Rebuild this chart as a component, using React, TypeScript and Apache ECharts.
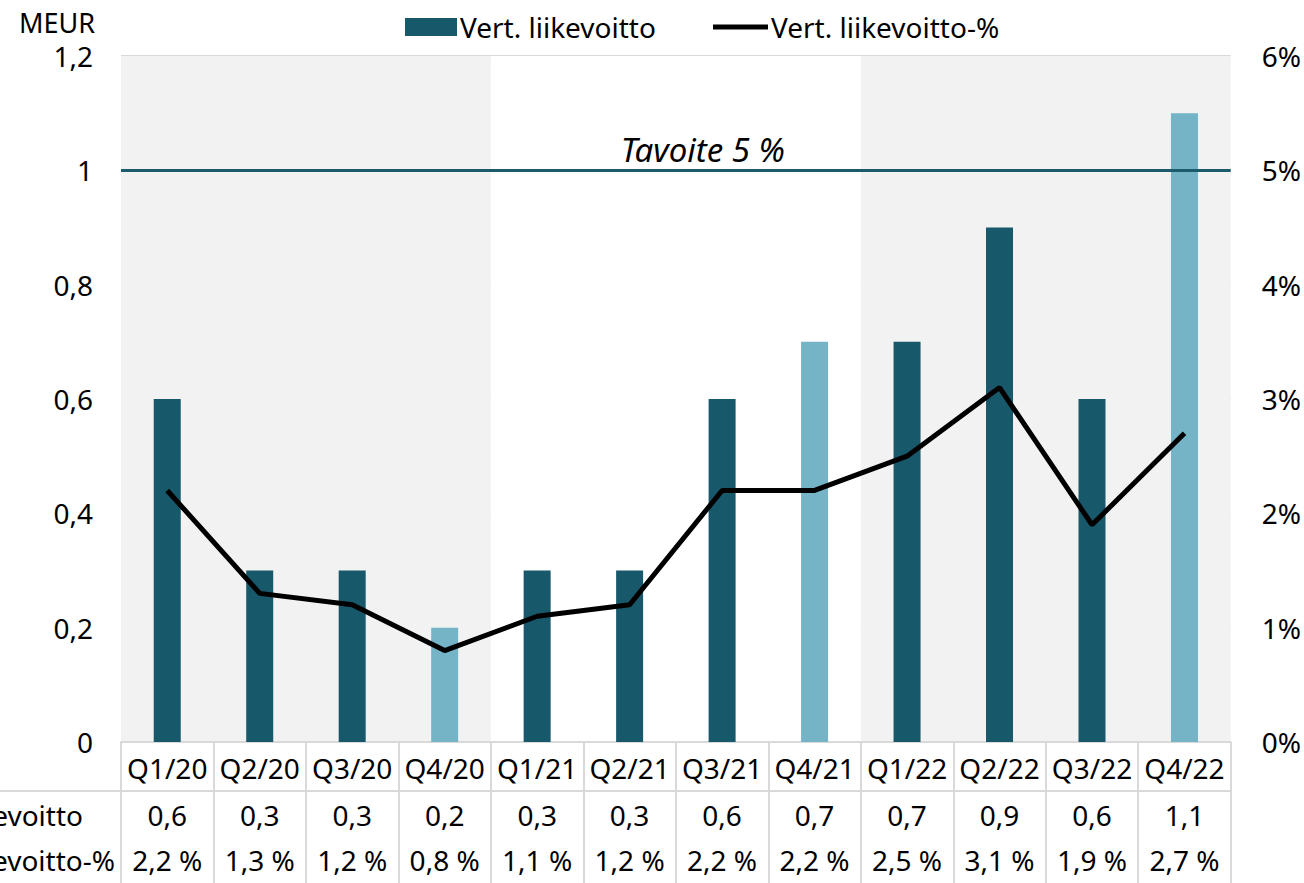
import React, { useEffect, useRef } from "react";
import * as echarts from "echarts";

const categories = ["Q1/20", "Q2/20", "Q3/20", "Q4/20", "Q1/21", "Q2/21", "Q3/21", "Q4/21", "Q1/22", "Q2/22", "Q3/22", "Q4/22"];
const years = ["2020", "2021", "2022"];
const profit = [0.6, 0.3, 0.3, 0.2, 0.3, 0.3, 0.6, 0.7, 0.7, 0.9, 0.6, 1.1];
const profitPct = [2.2, 1.3, 1.2, 0.8, 1.1, 1.2, 2.2, 2.2, 2.5, 3.1, 1.9, 2.7];
const TARGET_PCT = 5;
const targetLabel = "Tavoite 5 %";
const barName = "Vert. liikevoitto";
const lineName = "Vert. liikevoitto-%";
const unitLabel = "MEUR";

const DARK = "#17586A";
const LIGHT = "#74B4C6";
const GRID = "#D9D9D9";
const BAND = "#F2F2F2";
const FONT = "Noto Sans";

const fmt1 = (v: number) => String(+v.toFixed(1)).replace(".", ",");

export default function App() {
  const ref = useRef<HTMLDivElement>(null);
  useEffect(() => {
    document.body.style.margin = "0";
    const chart = echarts.init(ref.current!, null, { renderer: "svg" });
    const labelBase = { fontSize: 28, color: "#000", fontFamily: FONT };
    const legendText = { fontSize: 28, color: "#000", fontFamily: FONT, lineHeight: 30, padding: [0, 0, 0, -2] };
    chart.setOption({
      animation: false,
      textStyle: { fontFamily: FONT },
      grid: { left: 121, right: 73, top: 56, bottom: 141 },
      legend: [
        {
          left: 400,
          top: 7,
          itemWidth: 52,
          itemHeight: 18,
          textStyle: legendText,
          data: [{ name: barName, icon: "rect", itemStyle: { color: DARK } }],
        },
        {
          left: 708,
          top: 7,
          itemWidth: 55,
          itemHeight: 5,
          textStyle: legendText,
          data: [{ name: lineName, icon: "rect", itemStyle: { color: "#000" } }],
        },
      ],
      xAxis: [
        {
          type: "category",
          data: categories,
          position: "bottom",
          axisLine: { lineStyle: { color: GRID, width: 2 } },
          axisTick: { show: true, interval: 0, length: 141, lineStyle: { color: GRID, width: 2 } },
          axisLabel: { ...labelBase, interval: 0, margin: 26, verticalAlign: "middle" },
        },
        {
          type: "category",
          data: categories,
          position: "bottom",
          axisLine: { show: false },
          axisTick: { show: false },
          axisLabel: { ...labelBase, interval: 0, margin: 73, verticalAlign: "middle", formatter: (_v: string, i: number) => fmt1(profit[i]) },
        },
        {
          type: "category",
          data: categories,
          position: "bottom",
          axisLine: { show: false },
          axisTick: { show: false },
          axisLabel: { ...labelBase, interval: 0, margin: 118, verticalAlign: "middle", formatter: (_v: string, i: number) => fmt1(profitPct[i]) + " %" },
        },
        {
          type: "category",
          data: years,
          position: "top",
          axisLine: { show: false },
          axisTick: { show: false },
          axisLabel: { show: false },
          splitArea: { show: true, interval: 0, areaStyle: { color: [BAND, "#FFFFFF"] } },
        },
      ],
      yAxis: [
        {
          type: "value",
          min: 0,
          max: 1.2,
          interval: 0.2,
          axisLine: { show: false },
          axisTick: { show: false },
          axisLabel: { ...labelBase, margin: 28, formatter: (v: number) => fmt1(v) },
          splitLine: { lineStyle: { color: GRID, width: 2 } },
        },
        {
          type: "value",
          min: 0,
          max: 6,
          interval: 1,
          axisLine: { show: false },
          axisTick: { show: false },
          axisLabel: { ...labelBase, margin: 31, formatter: (v: number) => v + "%" },
          splitLine: { show: false },
        },
      ],
      graphic: [
        { type: "text", x: 95, y: 22, style: { text: unitLabel, fontSize: 27, fontFamily: FONT, fill: "#000", align: "right", verticalAlign: "middle" } },
        { type: "line", shape: { x1: 0, y1: 791, x2: 1231, y2: 791 }, style: { stroke: GRID, lineWidth: 2 } },
        { type: "text", x: 83, y: 815, style: { text: barName, fontSize: 28, fontFamily: FONT, fill: "#000", align: "right", verticalAlign: "middle" } },
        { type: "text", x: 115, y: 860, style: { text: lineName, fontSize: 28, fontFamily: FONT, fill: "#000", align: "right", verticalAlign: "middle" } },
      ],
      series: [
        {
          name: barName,
          type: "bar",
          barWidth: 27,
          data: profit.map((v, i) => ({
            value: v,
            itemStyle: { color: categories[i].startsWith("Q4") ? LIGHT : DARK },
          })),
          itemStyle: { color: DARK },
        },
        {
          name: lineName,
          type: "line",
          yAxisIndex: 1,
          data: profitPct,
          symbol: "none",
          showSymbol: false,
          lineStyle: { color: "#000", width: 5 },
          itemStyle: { color: "#000" },
          z: 5,
          markLine: {
            silent: true,
            symbol: ["none", "none"],
            data: [{ yAxis: TARGET_PCT }],
            lineStyle: { color: "#1B5B6B", width: 3, type: "solid" },
            label: {
              show: true,
              position: "middle",
              formatter: targetLabel,
              fontStyle: "italic",
              fontSize: 33,
              fontFamily: FONT,
              color: "#000",
              distance: 4,
              padding: [0, 0, 0, 54],
            },
          },
        },
      ],
    });
    return () => chart.dispose();
  }, []);
  return <div ref={ref} style={{ width: 1304, height: 883 }} />;
}
